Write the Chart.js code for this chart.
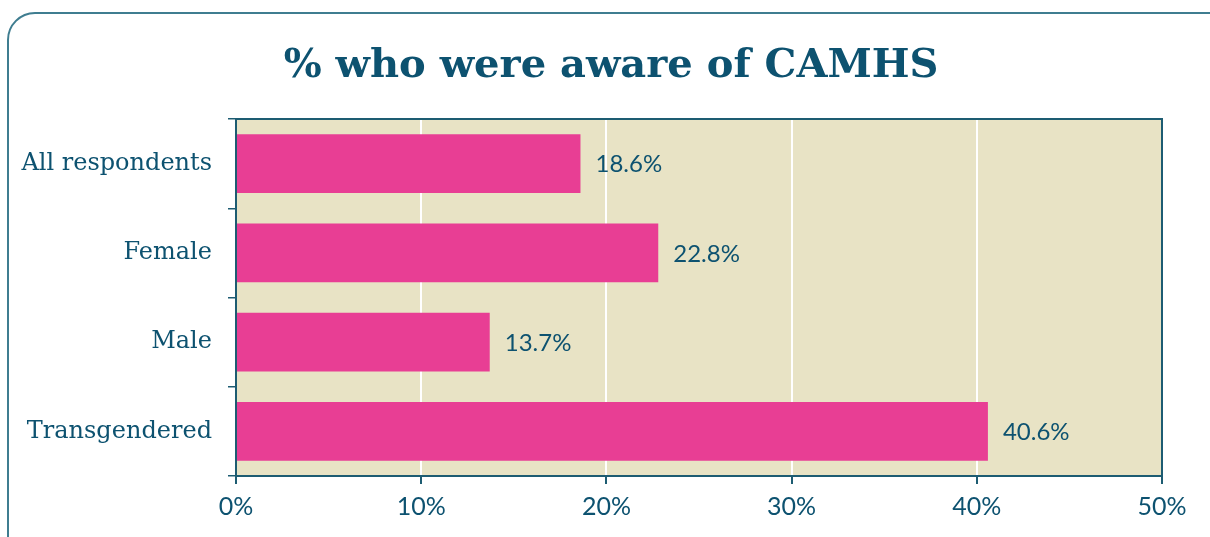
<!DOCTYPE html>
<html>
<head>
<meta charset="utf-8">
<script src="https://cdn.jsdelivr.net/npm/chart.js@4/dist/chart.umd.min.js"></script>
<style>
  body { margin: 0; background: #fff; overflow: hidden; }
  #card {
    position: absolute; left: 7px; top: 12px; width: 1240px; height: 570px;
    border: 2px solid #3f7d90; border-radius: 28px; box-sizing: border-box;
  }
  #chart { position: absolute; left: 0; top: 0; }
</style>
</head>
<body>
<div id="card"></div>
<canvas id="chart" width="1210" height="537"></canvas>
<script>
const categories = ['All respondents', 'Female', 'Male', 'Transgendered'];
const awareValues = [18.6, 22.8, 13.7, 40.6];
const xTicks = [0, 10, 20, 30, 40, 50];
const titleText = '% who were aware of CAMHS';

const textColor = '#0d5270';
const frameColor = '#1d5c72';

// beige plot background + dark frame around the plot, title centred on the card
const plotFrame = {
  id: 'plotFrame',
  beforeDraw(chart) {
    const a = chart.chartArea, ctx = chart.ctx;
    ctx.save();
    ctx.fillStyle = '#e8e3c5';
    ctx.fillRect(a.left, a.top, a.right - a.left, a.bottom - a.top);
    ctx.restore();
  },
  afterDraw(chart) {
    const a = chart.chartArea, ctx = chart.ctx;
    ctx.save();
    ctx.strokeStyle = frameColor;
    ctx.lineWidth = 2;
    ctx.strokeRect(a.left, a.top, a.right - a.left, a.bottom - a.top);
    ctx.font = 'bold 40px "DejaVu Serif"';
    ctx.fillStyle = textColor;
    ctx.textAlign = 'center';
    ctx.textBaseline = 'alphabetic';
    ctx.fillText(titleText, 611, 77);
    ctx.restore();
  }
};

// value labels to the right of each bar
const valueLabels = {
  id: 'valueLabels',
  afterDatasetsDraw(chart) {
    const ctx = chart.ctx;
    const meta = chart.getDatasetMeta(0);
    ctx.save();
    ctx.font = '24px Lato';
    ctx.fillStyle = textColor;
    ctx.textAlign = 'left';
    ctx.textBaseline = 'middle';
    meta.data.forEach((bar, i) => {
      ctx.fillText(awareValues[i].toFixed(1) + '%', bar.x + 15, bar.y + 1);
    });
    ctx.restore();
  }
};

new Chart(document.getElementById('chart'), {
  type: 'bar',
  data: {
    labels: categories,
    datasets: [{
      data: awareValues,
      backgroundColor: '#e83e94',
      borderWidth: 0,
      barPercentage: 0.66,
      categoryPercentage: 1
    }]
  },
  options: {
    indexAxis: 'y',
    responsive: false,
    animation: false,
    layout: { padding: { left: 0, right: 48, top: 119, bottom: 0 } },
    plugins: {
      legend: { display: false },
      tooltip: { enabled: false },
      title: { display: false }
    },
    scales: {
      x: {
        min: 0,
        max: 50,
        afterBuildTicks(scale) { scale.ticks = xTicks.map(v => ({ value: v })); },
        afterFit(scale) { scale.height = 61; },
        grid: {
          color: '#ffffff',
          lineWidth: 2,
          tickColor: frameColor,
          tickLength: 8
        },
        border: { display: true, color: frameColor, width: 2 },
        ticks: {
          color: textColor,
          font: { family: 'Lato', size: 25 },
          padding: 8,
          callback: v => v + '%'
        }
      },
      y: {
        afterFit(scale) { scale.width = 236; },
        grid: {
          offset: true,
          drawOnChartArea: false,
          tickColor: frameColor,
          tickLength: 8,
          lineWidth: 1.5
        },
        border: { display: true, color: frameColor, width: 2 },
        ticks: {
          color: textColor,
          font: { family: 'DejaVu Serif', size: 24 },
          padding: 16
        }
      }
    }
  },
  plugins: [plotFrame, valueLabels]
});
</script>
</body>
</html>
